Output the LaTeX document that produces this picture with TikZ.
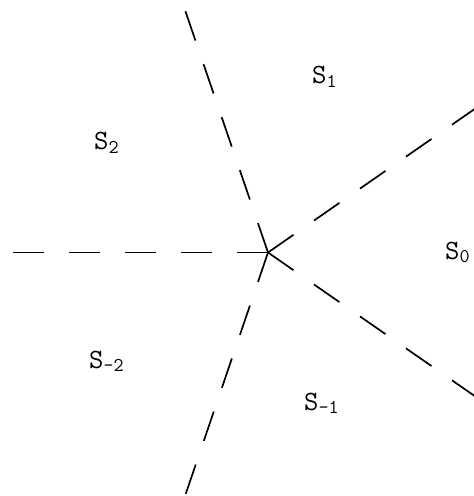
\documentclass[tikz,border=0pt]{standalone}
\begin{document}
\begin{tikzpicture}[x=1bp,y=-1bp,
  ray/.style={line width=1.7bp, dash pattern=on 31bp off 25bp},
  lab/.style={anchor=base west, inner sep=0pt, font=\fontsize{28}{32}\selectfont\ttfamily}]
\useasboundingbox (0,0) rectangle (474,496);
\clip (0,0) rectangle (474,496);
\coordinate (O) at (268,252.5);
\coordinate (E0) at (478.5,106.3);
\coordinate (E1) at (185,10);
\coordinate (E2) at (12,252.5);
\coordinate (E3) at (185.6,494.3);
\coordinate (E4) at (478.5,398.7);
\draw[ray] (O) -- (E0);
\draw[ray] (O) -- (E1);
\draw[ray] (O) -- (E2);
\draw[ray] (O) -- (E3);
\draw[ray] (O) -- (E4);
\node[lab] (s1) at (312,84) {S\textsubscript{1}};
\node[lab] (s2) at (94,150) {S\textsubscript{2}};
\node[lab] (s0) at (445,259) {S\textsubscript{0}};
\node[lab] (sm2) at (89,368) {S\textsubscript{\textendash2}};
\node[lab] (sm1) at (304,410) {S\textsubscript{\textendash1}};
\end{tikzpicture}
\end{document}
